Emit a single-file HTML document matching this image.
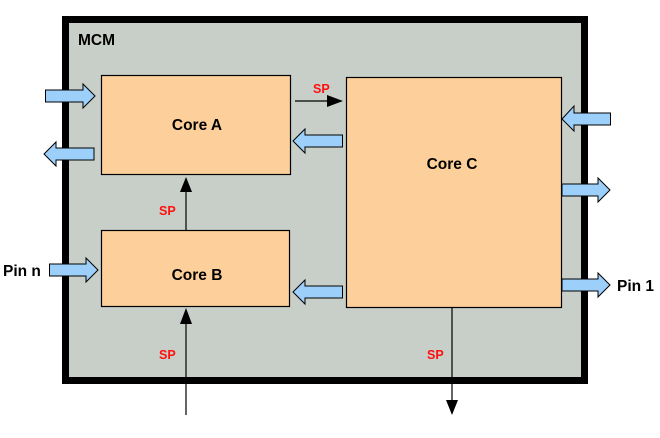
<!DOCTYPE html>
<html><head><meta charset="utf-8"><style>
html,body{margin:0;padding:0;background:#fff;}
svg{display:block;font-family:"Liberation Sans",sans-serif;font-weight:bold;}
</style></head><body>
<svg width="660" height="438" viewBox="0 0 660 438" xmlns="http://www.w3.org/2000/svg">
<rect x="65.5" y="19.5" width="519" height="361" fill="#c8cec8" stroke="#000" stroke-width="7"/>
<text x="78" y="45" font-size="15.5" fill="#000">MCM</text>
<rect x="101.5" y="75.5" width="189" height="99" fill="#fdd09b" stroke="#000" stroke-width="1.2"/>
<rect x="101.5" y="230.5" width="188" height="76" fill="#fdd09b" stroke="#000" stroke-width="1.2"/>
<rect x="346.5" y="77.5" width="215" height="230" fill="#fdd09b" stroke="#000" stroke-width="1.2"/>
<text x="197" y="130" font-size="15.5" text-anchor="middle">Core A</text>
<text x="197" y="280" font-size="15.5" text-anchor="middle">Core B</text>
<text x="452" y="169" font-size="15.5" text-anchor="middle">Core C</text>
<text x="3" y="276" font-size="15.5">Pin n</text>
<text x="617" y="291" font-size="15.5">Pin 1</text>
<g fill="#9dcffb" stroke="#000" stroke-width="1">
<polygon points="45.5,90 83,90 83,84 95,96 83,108 83,102 45.5,102"/>
<polygon points="94,148 56,148 56,142 44,154 56,166 56,160 94,160"/>
<polygon points="49.5,264 86,264 86,258 98,270 86,282 86,276 49.5,276"/>
<polygon points="342.5,135 305,135 305,129 293,141 305,153 305,147 342.5,147"/>
<polygon points="342.5,286 305,286 305,280 293,292 305,304 305,298 342.5,298"/>
<polygon points="610.5,113 574,113 574,106 562,119 574,131 574,125 610.5,125"/>
<polygon points="562,184 598,184 598,178 610,190 598,202 598,196 562,196"/>
<polygon points="562,279 598,279 598,273 610,285 598,297 598,291 562,291"/>
</g>
<g stroke="#000" stroke-width="1.2">
<line x1="295" y1="101" x2="335" y2="101"/>
<line x1="186" y1="230" x2="186" y2="186"/>
<line x1="186" y1="415" x2="186" y2="318"/>
<line x1="452" y1="307" x2="452" y2="403"/>
</g>
<g fill="#000">
<polygon points="327,95 343,101 327,107"/>
<polygon points="180,192 186,177 192,192"/>
<polygon points="180,324 186,308 192,324"/>
<polygon points="446,400 452,415 458,400"/>
</g>
<g fill="#ff1010" font-size="12.5">
<text x="313" y="93">SP</text>
<text x="159" y="215">SP</text>
<text x="159" y="359">SP</text>
<text x="427" y="359">SP</text>
</g>
</svg>
</body></html>
